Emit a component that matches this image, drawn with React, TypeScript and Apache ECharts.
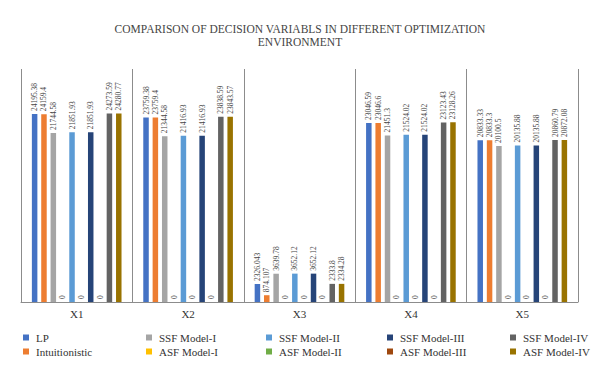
import React, { useEffect, useRef } from "react";
import * as echarts from "echarts";

const categories = ["X1", "X2", "X3", "X4", "X5"];
const seriesNames = [
  "LP",
  "Intuitionistic",
  "SSF Model-I",
  "ASF Model-I",
  "SSF Model-II",
  "ASF Model-II",
  "SSF Model-III",
  "ASF Model-III",
  "SSF Model-IV",
  "ASF Model-IV",
];
const colors = [
  "#4472C4", "#ED7D31", "#A5A5A5", "#FFC000", "#5B9BD5",
  "#70AD47", "#264478", "#9E480E", "#636363", "#997300",
];
const lp = [24195.38, 23759.38, 2326.043, 23046.59, 20833.33];
const intuitionistic = [24159.4, 23759.4, 874.107, 23046.6, 20833.3];
const ssf1 = [21744.58, 21344.58, 3639.78, 21451.3, 20100.5];
const asf1 = [0, 0, 0, 0, 0];
const ssf2 = [21851.93, 21416.93, 3652.12, 21524.02, 20135.88];
const asf2 = [0, 0, 0, 0, 0];
const ssf3 = [21851.93, 21416.93, 3652.12, 21524.02, 20135.88];
const asf3 = [0, 0, 0, 0, 0];
const ssf4 = [24273.59, 23838.59, 2333.8, 23123.43, 20860.79];
const asf4 = [24280.77, 23843.57, 2334.28, 23128.26, 20872.08];
const allValues = [lp, intuitionistic, ssf1, asf1, ssf2, asf2, ssf3, asf3, ssf4, asf4];

const FONT = "Liberation Serif";

export default function App() {
  const ref = useRef<HTMLDivElement>(null);
  useEffect(() => {
    if (!ref.current) return;
    const chart = echarts.init(ref.current, undefined, { renderer: "svg" });
    const legendLefts = [18, 141, 261, 382, 505];
    const legends = legendLefts.map((left, i) => ({
      orient: "vertical" as const,
      left,
      top: 327,
      itemWidth: 6,
      itemHeight: 6,
      itemGap: 3,
      icon: "rect",
      data: [seriesNames[i * 2], seriesNames[i * 2 + 1]],
      textStyle: { fontFamily: FONT, fontSize: 11, color: "#333", padding: [0, 0, 0, 2] },
    }));
    chart.setOption({
      animation: false,
      color: colors,
      textStyle: { fontFamily: FONT },
      title: {
        text: "COMPARISON OF DECISION VARIABLS IN DIFFERENT OPTIMIZATION\nENVIRONMENT",
        left: "center",
        top: 17,
        textStyle: {
          fontFamily: FONT,
          fontSize: 11.5,
          fontWeight: "normal",
          color: "#444",
          lineHeight: 13,
        },
      },
      legend: legends,
      grid: { left: 21, right: 22, top: 69, bottom: 71 },
      xAxis: {
        type: "category",
        data: categories,
        axisLine: { show: true, lineStyle: { color: "#8c8c8c", width: 1 } },
        axisTick: { show: false },
        splitLine: { show: true, lineStyle: { color: "#8c8c8c", width: 1 } },
        axisLabel: { fontFamily: FONT, fontSize: 11, color: "#333", margin: 6 },
      },
      yAxis: {
        type: "value",
        min: 0,
        max: 30000,
        show: false,
        splitLine: { show: false },
      },
      series: seriesNames.map((name, i) => ({
        name,
        type: "bar",
        data: allValues[i],
        barWidth: 5.5,
        barGap: "70%",
        itemStyle: { color: colors[i] },
        label: {
          show: true,
          position: "top",
          rotate: 90,
          align: "left",
          verticalAlign: "middle",
          distance: 3,
          fontFamily: FONT,
          fontSize: 7.5,
          color: "#444",
          formatter: (p: any) => String(p.value),
        },
      })),
    });
    return () => chart.dispose();
  }, []);
  return <div ref={ref} style={{ width: 600, height: 373, margin: -8 }} />;
}
